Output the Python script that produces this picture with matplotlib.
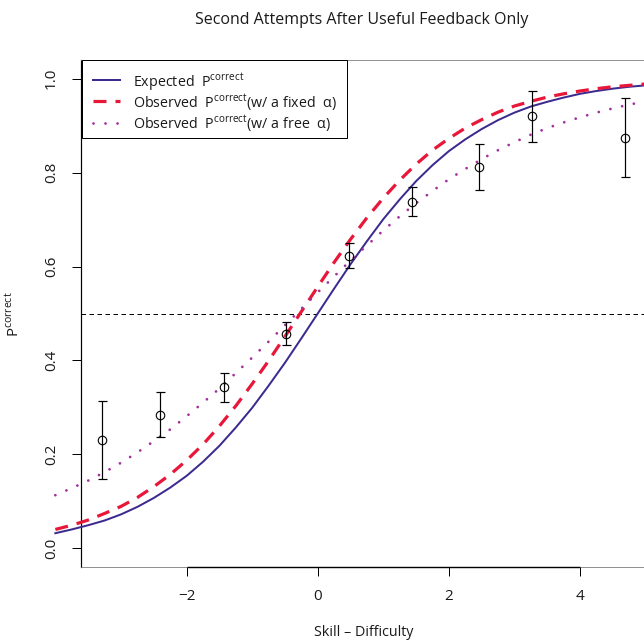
import matplotlib
matplotlib.use("Agg")
import matplotlib.pyplot as plt
from matplotlib.patches import Rectangle
from matplotlib.lines import Line2D

# observed success rates with error bars
skill_obs = [-3.29, -2.41, -1.43, -0.48, 0.47, 1.43, 2.46, 3.27, 4.69]
p_obs = [0.230, 0.284, 0.343, 0.457, 0.623, 0.738, 0.812, 0.920, 0.874]
p_lo = [0.147, 0.237, 0.312, 0.432, 0.596, 0.708, 0.763, 0.865, 0.791]
p_hi = [0.313, 0.333, 0.374, 0.482, 0.650, 0.770, 0.861, 0.974, 0.958]

# curves
skill_grid = [-4.0, -3.75, -3.5, -3.25, -3.0, -2.75, -2.5, -2.25, -2.0, -1.75,
              -1.5, -1.25, -1.0, -0.75, -0.5, -0.25, 0.0, 0.25, 0.5, 0.75,
              1.0, 1.25, 1.5, 1.75, 2.0, 2.25, 2.5, 2.75, 3.0, 3.25,
              3.5, 3.75, 4.0, 4.25, 4.5, 4.75, 5.0, 5.25, 5.5]
p_expected = [0.032, 0.040, 0.049, 0.059, 0.072, 0.088, 0.107, 0.129, 0.154, 0.184,
              0.218, 0.257, 0.299, 0.346, 0.395, 0.447, 0.500, 0.553, 0.605, 0.654,
              0.701, 0.743, 0.782, 0.816, 0.846, 0.871, 0.893, 0.912, 0.928, 0.941,
              0.951, 0.960, 0.968, 0.974, 0.979, 0.983, 0.986, 0.989, 0.991]
p_fixed = [0.040, 0.049, 0.060, 0.074, 0.089, 0.108, 0.131, 0.157, 0.187, 0.221,
           0.260, 0.303, 0.350, 0.399, 0.451, 0.504, 0.557, 0.609, 0.658, 0.704,
           0.746, 0.784, 0.818, 0.848, 0.873, 0.895, 0.913, 0.929, 0.942, 0.952,
           0.961, 0.968, 0.974, 0.979, 0.983, 0.986, 0.989, 0.991, 0.993]
p_free = [0.113, 0.128, 0.144, 0.162, 0.182, 0.204, 0.228, 0.253, 0.281, 0.310,
          0.340, 0.373, 0.406, 0.440, 0.475, 0.510, 0.545, 0.579, 0.613, 0.645,
          0.677, 0.707, 0.735, 0.761, 0.786, 0.808, 0.829, 0.848, 0.865, 0.881,
          0.895, 0.907, 0.918, 0.928, 0.937, 0.945, 0.952, 0.958, 0.963]

legend_labels = ["Expected  P$^{\\mathrm{correct}}$",
                 "Observed  P$^{\\mathrm{correct}}$(w/ a fixed  \u03b1)",
                 "Observed  P$^{\\mathrm{correct}}$(w/ a free  \u03b1)"]

x_ticks = [-2, 0, 2, 4]
x_ticklabels = ["\u22122", "0", "2", "4"]
y_ticks = [0.0, 0.2, 0.4, 0.6, 0.8, 1.0]
y_ticklabels = ["0.0", "0.2", "0.4", "0.6", "0.8", "1.0"]

PX = 0.72  # one pixel in points at dpi 100

plt.rcParams["font.family"] = ["Open Sans", "DejaVu Sans"]
plt.rcParams["mathtext.fontset"] = "custom"
plt.rcParams["mathtext.rm"] = "Open Sans"
plt.rcParams["mathtext.it"] = "Open Sans:italic"
plt.rcParams["lines.scale_dashes"] = False

W, H = 644, 642
fig = plt.figure(figsize=(W / 100, H / 100), dpi=100)
ax = fig.add_axes([81 / W, 1 - 567 / H, (646.3 - 81) / W, (567 - 60) / H])
ax.set_xlim(-3.609, 5.009)
ax.set_ylim(-0.04, 1.04)

c_exp = "#3d2a8f"
c_fix = "#e8173a"
c_free = "#a2309c"

styles = [
    dict(color=c_exp, lw=2 * PX),
    dict(color=c_fix, lw=3.2 * PX, dashes=(13 * PX, 9 * PX)),
    dict(color=c_free, lw=2.8 * PX, dashes=(0.01, 12 * PX), dash_capstyle="round"),
]

for vals, st in zip([p_expected, p_fixed, p_free], styles):
    ax.plot(skill_grid, vals, clip_on=False, zorder=3, **st)

ax.axhline(0.5, color="black", lw=1 * PX, dashes=(4.5 * PX, 3.5 * PX), zorder=2)

yerr = [[p - lo for p, lo in zip(p_obs, p_lo)], [hi - p for p, hi in zip(p_obs, p_hi)]]
ax.errorbar(skill_obs, p_obs, yerr=yerr, fmt="none", ecolor="black",
            elinewidth=1.2 * PX, capsize=4.5 * PX, capthick=1.2 * PX, zorder=4)
ax.plot(skill_obs, p_obs, "o", mfc="none", mec="black", ms=8.5 * PX, mew=1.1 * PX, zorder=5)

# box and axes
for side in ["top", "bottom", "right"]:
    ax.spines[side].set_color("#777777")
    ax.spines[side].set_linewidth(0.8 * PX)
ax.spines["left"].set_color("black")
ax.spines["left"].set_linewidth(1.2 * PX)
ax.plot([x_ticks[0], x_ticks[-1]], [-0.04, -0.04], color="black", lw=1.4 * PX,
        clip_on=False, zorder=6, solid_capstyle="butt")

ax.set_xticks(x_ticks)
ax.set_xticklabels(x_ticklabels)
ax.set_yticks(y_ticks)
ax.set_yticklabels(y_ticklabels, rotation=90, va="center")
ax.tick_params(axis="both", direction="out", length=9 * PX, width=1 * PX,
               color="black", labelsize=11, pad=13 * PX, labelcolor="#1a1a1a")

# legend box drawn by hand in pixel positions
def fx(px):
    return px / W

def fy(py):
    return 1 - py / H

fig.add_artist(Rectangle((fx(82), fy(138)), fx(347) - fx(82), fy(60) - fy(138),
                         transform=fig.transFigure, facecolor="white",
                         edgecolor="black", lw=1 * PX, zorder=10))
for row_y, st, lab in zip([80, 101, 122.5], styles, legend_labels):
    fig.add_artist(Line2D([fx(93), fx(120)], [fy(row_y), fy(row_y)],
                          transform=fig.transFigure, zorder=11, **st))
    fig.text(fx(133), fy(row_y + 6.5), lab, ha="left", va="baseline",
             fontsize=10.3, color="#1a1a1a", zorder=12)

fig.text(362 / W, 1 - 20 / H, "Second Attempts After Useful Feedback Only",
         ha="center", va="center", fontsize=11.5, color="#1a1a1a")
fig.text(364 / W, 1 - 633 / H, "Skill \u2013 Difficulty", ha="center", va="center",
         fontsize=10.3, color="#1a1a1a")
fig.text(14 / W, 1 - 314 / H, "P$^{\\mathrm{correct}}$", rotation=90, ha="center",
         va="center", fontsize=10.8, color="#1a1a1a")

fig.savefig("out.png", dpi=100)
